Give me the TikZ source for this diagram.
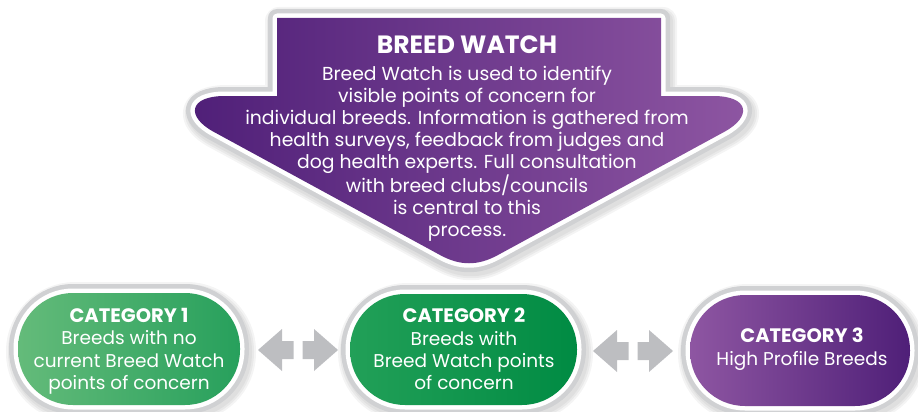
\documentclass[tikz,border=0pt]{standalone}
\usepackage{fontspec}
\setmainfont{Poppins}
\definecolor{ringgrey}{HTML}{D0D1D3}
\definecolor{arrowgrey}{HTML}{BDBEC1}
\definecolor{purpleA}{HTML}{4F1F78}
\definecolor{purpleB}{HTML}{8E56A2}
\definecolor{greenA}{HTML}{64BB7A}
\definecolor{greenB}{HTML}{27A05C}
\definecolor{greenC}{HTML}{22A058}
\definecolor{greenD}{HTML}{008B43}

% outline of the big downward arrow
\def\bigarrowpath{(277,18) -- (661,18) -- (661,96) -- (713,96)
  .. controls (750,96) and (752,117) .. (724,132) -- (498,255)
  .. controls (478,266) and (460,266) .. (440,255) -- (214,132)
  .. controls (186,117) and (188,96) .. (225,96) -- (277,96) -- cycle}

\newcommand{\cathead}[1]{{\fontsize{19.5}{22.3}\selectfont\bfseries #1}}

\tikzset{
  shadowline/.style={draw=black, opacity=0.045, line join=round, shift={(2,3)}},
  ringline/.style={draw=ringgrey, line width=18pt, line join=round},
  whiteline/.style={draw=white, line width=9pt, line join=round},
  bodytext/.style={text=white, align=center, inner sep=0pt,
    font=\fontsize{18.8}{22}\selectfont},
  headtext/.style={text=white, inner sep=0pt,
    font=\fontsize{25}{28}\selectfont\bfseries},
  cattext/.style={text=white, align=center, inner sep=0pt,
    font=\fontsize{18.5}{22.3}\selectfont},
  arrowpair/.pic={
    \fill[arrowgrey] (-40,0) -- (-16,-21) -- (-16,-9) -- (-4.5,-9)
      -- (-4.5,9) -- (-16,9) -- (-16,21) -- cycle;
    \fill[arrowgrey] (40,0) -- (16,-21) -- (16,-9) -- (4.5,-9)
      -- (4.5,9) -- (16,9) -- (16,21) -- cycle;
  }
}

% shadow, grey ring, white ring and shaded body of one shape
\newcommand{\framedshape}[3]{%
  \foreach \w in {28,24,20}{\path[shadowline, line width=\w pt, #1] #2;}
  \path[ringline, #1] #2;
  \path[whiteline, #1] #2;
  \shade[#3, #1] #2;
}

\begin{document}
\begin{tikzpicture}[x=1pt,y=-1pt]
\useasboundingbox (0,0) rectangle (918,412);

% big arrow
\framedshape{}{\bigarrowpath}{left color=purpleA, right color=purpleB}

% category pills
\framedshape{rounded corners=55pt}{(18,293) rectangle (240,405)}{left color=greenA, right color=greenB}
\framedshape{rounded corners=55pt}{(350,294) rectangle (577,405)}{left color=greenC, right color=greenD}
\framedshape{rounded corners=55pt}{(690,295) rectangle (910,406)}{left color=purpleB, right color=purpleA}

% texts
\node[headtext, anchor=base] (bwhead) at (467,54) {BREED WATCH};
\node[bodytext, anchor=north] (bwbody) at (467,66) {Breed Watch is used to identify\\
  visible points of concern for\\
  individual breeds. Information is gathered from\\
  health surveys, feedback from judges and\\
  dog health experts. Full consultation\\
  with breed clubs/councils\\
  is central to this\\
  process.};

\node[cattext, anchor=north] (cat1) at (129,308) {\cathead{CATEGORY 1}\\
  Breeds with no\\ current Breed Watch\\ points of concern};
\node[cattext, anchor=north] (cat2) at (464,308) {\cathead{CATEGORY 2}\\
  Breeds with\\ Breed Watch points\\ of concern};
\node[cattext, anchor=north] (cat3) at (802,328) {\cathead{CATEGORY 3}\\
  High Profile Breeds};

% two-way arrows between the categories
\coordinate (link12) at (298,350);
\coordinate (link23) at (633,351);
\pic (pair12) at (link12) {arrowpair};
\pic (pair23) at (link23) {arrowpair};
\end{tikzpicture}
\end{document}
